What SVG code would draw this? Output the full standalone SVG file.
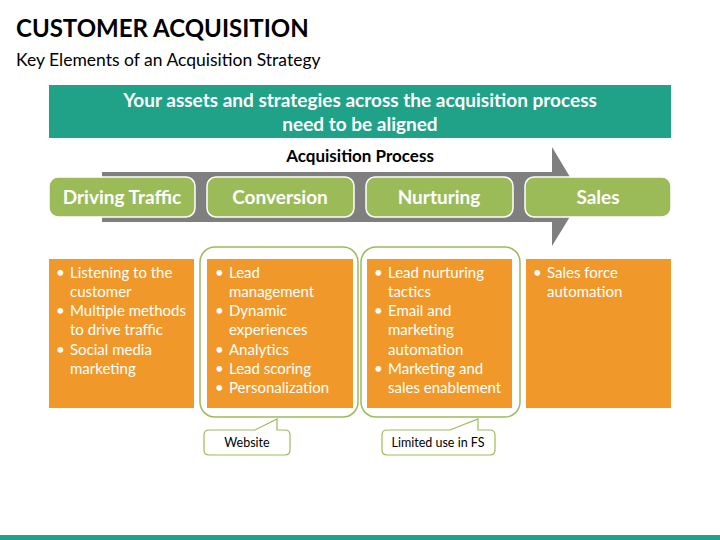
<svg xmlns="http://www.w3.org/2000/svg" width="720" height="540" viewBox="0 0 720 540">
<style>
text{font-family:Lato,"Open Sans","Liberation Sans",sans-serif}
.step{fill:#9bbb59;stroke:#fff;stroke-width:1.5}
.stept{fill:#fff;font-size:19px;font-weight:bold;text-anchor:middle}
.box{fill:#f0992a}
.bt{fill:#fff;font-size:15px}
.grp{fill:none;stroke:#9bbb59;stroke-width:1.5}
.call{fill:#fff;stroke:#9bbb59;stroke-width:1.2}
.ct{fill:#000;font-size:12.5px;text-anchor:middle}
</style>
<rect width="720" height="540" fill="#fff"/>
<text x="16" y="37" font-size="24" font-weight="bold" fill="#000">CUSTOMER ACQUISITION</text>
<text x="16" y="66" font-size="17.5" fill="#000">Key Elements of an Acquisition Strategy</text>
<g id="banner">
<rect x="49" y="85" width="622" height="53" fill="#1fa287"/>
<text x="360" y="107" font-size="19" font-weight="bold" fill="#fff" text-anchor="middle">Your assets and strategies across the acquisition process</text>
<text x="360" y="131" font-size="19" font-weight="bold" fill="#fff" text-anchor="middle">need to be aligned</text>
</g>
<g id="process-arrow">
<text x="360" y="162" font-size="17" font-weight="bold" fill="#000" text-anchor="middle">Acquisition Process</text>
<polygon points="102,172 552,172 552,147 582,197 552,246 552,222 102,222" fill="#7f7f7f"/>
</g>
<g id="step-driving"><rect class="step" x="49" y="177" width="146" height="40" rx="9"/><text class="stept" x="122" y="204">Driving Traffic</text></g>
<g id="step-conversion"><rect class="step" x="207" y="177" width="147" height="40" rx="9"/><text class="stept" x="280" y="204">Conversion</text></g>
<g id="step-nurturing"><rect class="step" x="366" y="177" width="147" height="40" rx="9"/><text class="stept" x="439" y="204">Nurturing</text></g>
<g id="step-sales"><rect class="step" x="525" y="177" width="146" height="40" rx="9"/><text class="stept" x="598" y="204">Sales</text></g>
<g id="groups">
<rect class="grp" x="200" y="247" width="158" height="170" rx="15"/>
<rect class="grp" x="361" y="247" width="159" height="170" rx="15"/>
</g>
<g id="box-driving"><rect class="box" x="49" y="259" width="145" height="149"/>
<text class="bt"><tspan x="56" y="278">•</tspan><tspan x="70" y="278">Listening to the</tspan><tspan x="70" y="297">customer</tspan><tspan x="56" y="316">•</tspan><tspan x="70" y="316">Multiple methods</tspan><tspan x="70" y="335">to drive traffic</tspan><tspan x="56" y="355">•</tspan><tspan x="70" y="355">Social media</tspan><tspan x="70" y="374">marketing</tspan></text></g>
<g id="box-conversion"><rect class="box" x="207" y="259" width="146" height="149"/>
<text class="bt"><tspan x="215" y="278">•</tspan><tspan x="229" y="278">Lead</tspan><tspan x="229" y="297">management</tspan><tspan x="215" y="316">•</tspan><tspan x="229" y="316">Dynamic</tspan><tspan x="229" y="335">experiences</tspan><tspan x="215" y="355">•</tspan><tspan x="229" y="355">Analytics</tspan><tspan x="215" y="374">•</tspan><tspan x="229" y="374">Lead scoring</tspan><tspan x="215" y="393">•</tspan><tspan x="229" y="393">Personalization</tspan></text></g>
<g id="box-nurturing"><rect class="box" x="367" y="259" width="145" height="149"/>
<text class="bt"><tspan x="374" y="278">•</tspan><tspan x="388" y="278">Lead nurturing</tspan><tspan x="388" y="297">tactics</tspan><tspan x="374" y="316">•</tspan><tspan x="388" y="316">Email and</tspan><tspan x="388" y="335">marketing</tspan><tspan x="388" y="355">automation</tspan><tspan x="374" y="374">•</tspan><tspan x="388" y="374">Marketing and</tspan><tspan x="388" y="393">sales enablement</tspan></text></g>
<g id="box-sales"><rect class="box" x="526" y="259" width="145" height="149"/>
<text class="bt"><tspan x="533" y="278">•</tspan><tspan x="547" y="278">Sales force</tspan><tspan x="547" y="297">automation</tspan></text></g>
<g id="callout-website">
<path class="call" d="M209,430 L255,430 L277,419 L277,430 L285,430 Q290,430 290,435 L290,450 Q290,455 285,455 L209,455 Q204,455 204,450 L204,435 Q204,430 209,430 Z"/>
<text class="ct" x="247" y="447">Website</text></g>
<g id="callout-fs">
<path class="call" d="M387,430 L450,430 L478,419 L478,430 L490,430 Q495,430 495,435 L495,450 Q495,455 490,455 L387,455 Q382,455 382,450 L382,435 Q382,430 387,430 Z"/>
<text class="ct" x="438" y="447">Limited use in FS</text></g>
<rect x="0" y="535" width="720" height="5" fill="#1fa287"/>
</svg>
